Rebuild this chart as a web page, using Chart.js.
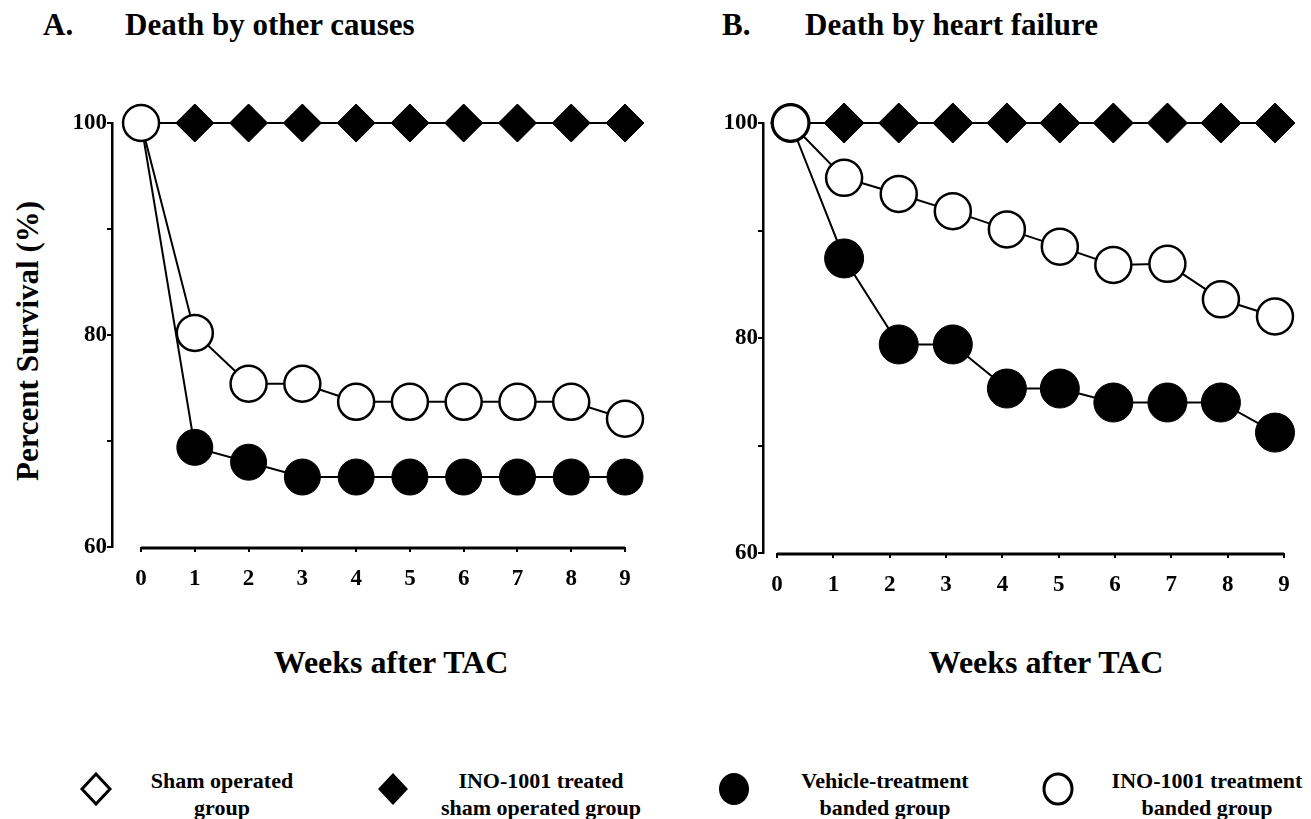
<!DOCTYPE html>
<html>
  <head>
    <title>Survival after TAC</title>
    <script src="https://cdn.jsdelivr.net/npm/chart.js@4/dist/chart.umd.min.js"></script>
    <style>
      body { margin: 0; background: #fff; font-family: "Liberation Serif", "DejaVu Serif", serif; font-weight: bold; color: #000; }
      #page { position: relative; width: 1311px; height: 819px; overflow: hidden; }
      .abs { position: absolute; white-space: nowrap; }
      .title { font-size: 31px; top: 7px; }
      .xtitle { font-size: 32px; top: 644px; transform: translateX(-50%); }
      .ytitle { font-size: 31px; left: 28px; top: 341px; transform: translate(-50%, -50%) rotate(-90deg); }
      .leg { font-size: 22px; line-height: 27px; text-align: center; top: 767px; transform: translateX(-50%); }
      .mark { position: absolute; top: 772px; }
    </style>
  </head>

  <body>
    <div id="page">
      <div class="abs title" style="left: 43px">A.</div>
      <div class="abs title" style="left: 125px">Death by other causes</div>
      <div class="abs title" style="left: 722px">B.</div>
      <div class="abs title" style="left: 805px">Death by heart failure</div>

      <div class="abs ytitle">Percent Survival (%)</div>

      <div class="abs" style="left: 40px; top: 80px; width: 620px; height: 527px">
        <canvas id="chartA"></canvas>
      </div>
      <div class="abs" style="left: 690px; top: 80px; width: 621px; height: 533px">
        <canvas id="chartB"></canvas>
      </div>

      <div class="abs xtitle" style="left: 391px">Weeks after TAC</div>
      <div class="abs xtitle" style="left: 1046px">Weeks after TAC</div>

      <svg class="mark" style="left: 79px" width="34" height="34"><polygon points="17,2 31,17 17,32 3,17" fill="#fff" stroke="#000" stroke-width="3"/></svg>
      <div class="abs leg" style="left: 222px">Sham operated<br>group</div>
      <svg class="mark" style="left: 376px" width="34" height="34"><polygon points="17,1 32,17 17,33 2,17" fill="#000"/></svg>
      <div class="abs leg" style="left: 541px">INO-1001 treated<br>sham operated group</div>
      <svg class="mark" style="left: 717px" width="34" height="34"><ellipse cx="17" cy="17" rx="15" ry="16" fill="#000"/></svg>
      <div class="abs leg" style="left: 885px">Vehicle-treatment<br>banded group</div>
      <svg class="mark" style="left: 1041px" width="34" height="34"><ellipse cx="17" cy="17" rx="14" ry="15" fill="#fff" stroke="#000" stroke-width="3"/></svg>
      <div class="abs leg" style="left: 1207px">INO-1001 treatment<br>banded group</div>
    </div>

    <script>
      // weeks after TAC; panel B markers sit slightly off the printed ticks
      const weeksA = [0, 1, 2, 3, 4, 5, 6, 7, 8, 9];
      const weeksB = [0.24, 1.19, 2.16, 3.12, 4.08, 5.02, 5.97, 6.93, 7.88, 8.84];
      const xTicks = [0, 1, 2, 3, 4, 5, 6, 7, 8, 9];
      const yTicks = [60, 70, 80, 90, 100];
      const yLabels = [60, 80, 100];

      // A. death by other causes
      const shamA = [100, 100, 100, 100, 100, 100, 100, 100, 100, 100];
      const inoShamA = [100, 100, 100, 100, 100, 100, 100, 100, 100, 100];
      const vehicleA = [100, 69.4, 68.0, 66.6, 66.6, 66.6, 66.6, 66.6, 66.6, 66.6];
      const inoBandedA = [100, 80.2, 75.4, 75.4, 73.7, 73.7, 73.7, 73.7, 73.7, 72.1];

      // B. death by heart failure
      const shamB = [100, 100, 100, 100, 100, 100, 100, 100, 100, 100];
      const inoShamB = [100, 100, 100, 100, 100, 100, 100, 100, 100, 100];
      const vehicleB = [100, 87.4, 79.4, 79.4, 75.3, 75.3, 74.0, 74.0, 74.0, 71.2];
      const inoBandedB = [100, 94.9, 93.4, 91.8, 90.1, 88.5, 86.8, 86.9, 83.6, 82.0];

      const tickFont = { family: '"Liberation Serif", "DejaVu Serif", serif', size: 23, weight: 'bold' };

      const toPoints = (xs, ys) => xs.map((x, i) => ({ x: x, y: ys[i] }));

      // x axis line only spans the week ticks, detached from the y axis
      const xAxisLine = {
        id: 'xAxisLine',
        afterDraw(chart) {
          const { ctx, chartArea } = chart;
          const x = chart.scales.x;
          ctx.save();
          ctx.strokeStyle = '#000';
          ctx.lineWidth = 3;
          ctx.beginPath();
          ctx.moveTo(x.getPixelForValue(xTicks[0]), chartArea.bottom + 1);
          ctx.lineTo(x.getPixelForValue(xTicks[xTicks.length - 1]), chartArea.bottom + 1);
          ctx.stroke();
          ctx.restore();
        },
      };

      function makeChart(id, weeks, sham, inoSham, vehicle, inoBanded, opts) {
        const line = { borderColor: '#000', borderWidth: 2, tension: 0, clip: false, pointBorderColor: '#000' };
        return new Chart(document.getElementById(id), {
          type: 'line',
          data: {
            datasets: [
              Object.assign({}, line, {
                label: 'INO-1001 treatment banded group',
                data: toPoints(weeks, inoBanded),
                order: 0,
                pointStyle: 'circle',
                pointRadius: opts.openR,
                pointBorderWidth: 2.5,
                pointBackgroundColor: '#fff',
              }),
              Object.assign({}, line, {
                label: 'Vehicle-treatment banded group',
                data: toPoints(weeks, vehicle),
                order: 1,
                pointStyle: 'circle',
                pointRadius: opts.fillR,
                pointBorderWidth: 1,
                pointBackgroundColor: '#000',
              }),
              Object.assign({}, line, {
                label: 'INO-1001 treated sham operated group',
                data: toPoints(weeks, inoSham),
                order: 2,
                pointStyle: 'rectRot',
                pointRadius: opts.diaR,
                pointBorderWidth: 1,
                pointBackgroundColor: '#000',
              }),
              Object.assign({}, line, {
                label: 'Sham operated group',
                data: toPoints(weeks, sham),
                order: 3,
                pointStyle: 'rectRot',
                pointRadius: opts.diaR - 2,
                pointBorderWidth: 2.5,
                pointBackgroundColor: '#fff',
              }),
            ],
          },
          options: {
            responsive: true,
            maintainAspectRatio: false,
            animation: false,
            layout: { padding: { top: 43, right: opts.padRight, left: 0, bottom: 0 } },
            plugins: { legend: { display: false }, tooltip: { enabled: false } },
            scales: {
              x: {
                type: 'linear',
                min: opts.xMin,
                max: 9,
                afterFit: (s) => { s.height = 60; },
                afterBuildTicks: (s) => { s.ticks = xTicks.map((v) => ({ value: v })); },
                border: { display: false },
                grid: { drawOnChartArea: false, drawTicks: true, tickLength: 5, color: '#000', lineWidth: 2 },
                ticks: { color: '#000', font: tickFont, padding: 13, maxRotation: 0 },
              },
              y: {
                min: 60,
                max: 100,
                afterFit: (s) => { s.width = opts.yWidth; },
                afterBuildTicks: (s) => { s.ticks = yTicks.map((v) => ({ value: v })); },
                border: { display: true, color: '#000', width: 2.5 },
                grid: { drawOnChartArea: false, drawTicks: true, tickLength: 5, color: '#000', lineWidth: 2 },
                ticks: {
                  color: '#000',
                  font: tickFont,
                  padding: 0,
                  callback: (v) => (yLabels.includes(v) ? String(v) : ''),
                },
              },
            },
          },
          plugins: [xAxisLine],
        });
      }

      makeChart('chartA', weeksA, shamA, inoShamA, vehicleA, inoBandedA,
        { xMin: -0.54, yWidth: 72, padRight: 35, openR: 18, fillR: 18, diaR: 19 });
      makeChart('chartB', weeksB, shamB, inoShamB, vehicleB, inoBandedB,
        { xMin: -0.25, yWidth: 73, padRight: 27, openR: 18, fillR: 19.5, diaR: 20 });
    </script>
  </body>
</html>
